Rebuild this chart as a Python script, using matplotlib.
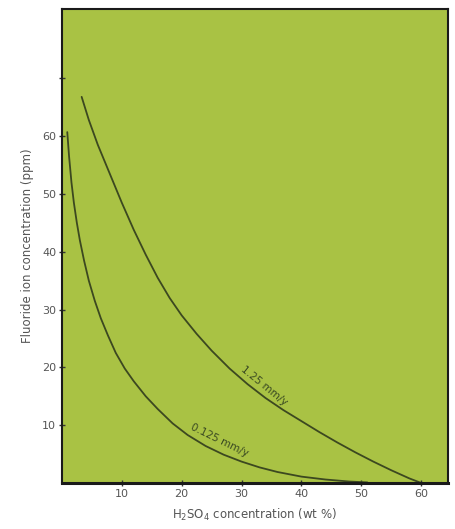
import matplotlib
matplotlib.use("Agg")
import matplotlib.pyplot as plt

# Data
x_125 = [3.3, 4.5, 6.0, 8.0, 10.0, 12.0, 14.0, 16.0, 18.0, 20.0, 22.5, 25.0, 28.0,
         31.0, 34.0, 37.0, 40.0, 43.0, 46.0, 49.0, 52.0, 55.0, 58.0, 60.0]
y_125 = [66.8, 62.8, 58.5, 53.5, 48.5, 43.8, 39.5, 35.5, 32.0, 29.0, 25.8, 22.9, 19.8,
         17.1, 14.7, 12.6, 10.7, 8.8, 7.0, 5.3, 3.7, 2.2, 0.8, 0.0]

x_0125 = [0.9, 1.2, 1.6, 2.0, 2.5, 3.0, 3.7, 4.5, 5.5, 6.5, 7.7, 9.0, 10.5, 12.0,
          14.0, 16.0, 18.5, 21.0, 24.0, 27.0, 30.0, 33.0, 36.0, 40.0, 44.0, 48.0, 51.0]
y_0125 = [60.7, 56.5, 52.0, 48.5, 45.0, 42.0, 38.5, 35.0, 31.5, 28.5, 25.5, 22.5, 19.8, 17.6,
          15.0, 12.8, 10.3, 8.3, 6.4, 4.9, 3.7, 2.7, 1.9, 1.1, 0.6, 0.25, 0.1]

xticks = [10, 20, 30, 40, 50, 60]
yticks = [10, 20, 30, 40, 50, 60, 70]
ytick_labels = ["10", "20", "30", "40", "50", "60", ""]

bg = "#a9c244"
line_c = "#3c4820"
text_c = "#555555"

fig = plt.figure(figsize=(4.55, 5.29), dpi=100)
ax = fig.add_axes([0.136, 0.087, 0.849, 0.896])
ax.set_facecolor(bg)

ax.plot(x_125, y_125, color=line_c, lw=1.3, solid_capstyle="round", solid_joinstyle="round")
ax.plot(x_0125, y_0125, color=line_c, lw=1.3, solid_capstyle="round", solid_joinstyle="round")

ax.text(33.8, 16.8, "1.25 mm/y", rotation=-39, ha="center", va="center",
        fontsize=7.5, color="#3a4a22")
ax.text(26.3, 7.3, "0.125 mm/y", rotation=-26, ha="center", va="center",
        fontsize=7.5, color="#3a4a22")

ax.set_xlim(0, 64.5)
ax.set_ylim(0, 82)
ax.set_xticks(xticks)
ax.set_yticks(yticks)
ax.set_yticklabels(ytick_labels)
ax.tick_params(axis="both", direction="inout", length=4, width=1, color="#333333",
               labelsize=8, labelcolor=text_c, pad=2)

for s in ax.spines.values():
    s.set_color("#1a1a1a")
    s.set_linewidth(1.5)
ax.spines["bottom"].set_linewidth(2.2)

ax.set_xlabel(r"H$_2$SO$_4$ concentration (wt %)", fontsize=8.5, color=text_c, labelpad=6)
ax.set_ylabel("Fluoride ion concentration (ppm)", fontsize=8.5, color=text_c, labelpad=6)

fig.savefig("out.png", dpi=100, facecolor="white")
